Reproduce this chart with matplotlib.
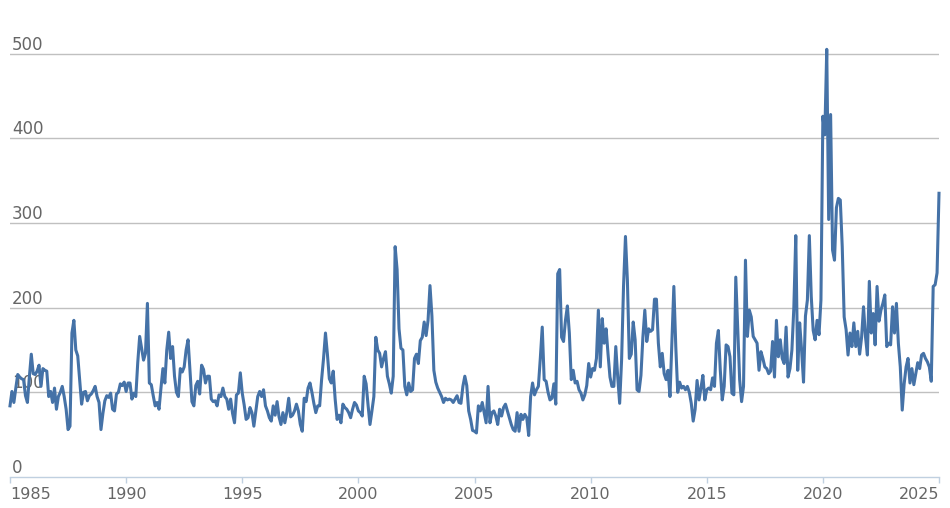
import numpy as np
import matplotlib
matplotlib.use('Agg')
import matplotlib.pyplot as plt
import matplotlib.transforms as mtransforms

# Monthly index values, first point is January 1985
start_year = 1985

epu_1985_1989 = [84, 101, 88, 105, 121, 118, 116, 115, 96, 88, 118, 145,
                 122, 121, 125, 132, 107, 128, 126, 125, 95, 101, 88, 105,
                 80, 95, 100, 107, 95, 80, 56, 60, 170, 185, 150, 143,
                 115, 86, 100, 101, 90, 96, 98, 102, 107, 95, 88, 56,
                 75, 90, 96, 94, 99, 80, 78, 98, 100, 110, 108, 112]

epu_1990_1994 = [101, 111, 111, 92, 99, 95, 135, 166, 152, 138, 146, 205,
                 111, 109, 96, 84, 88, 80, 105, 128, 111, 150, 171, 140,
                 154, 119, 100, 95, 128, 124, 130, 150, 162, 125, 89, 84,
                 108, 113, 98, 132, 127, 111, 119, 119, 92, 89, 90, 84,
                 97, 95, 105, 95, 92, 80, 92, 75, 64, 97, 99, 123]

epu_1995_1999 = [99, 85, 68, 70, 82, 76, 60, 78, 95, 101, 95, 103,
                 84, 78, 70, 66, 84, 73, 89, 71, 62, 76, 64, 76,
                 93, 71, 73, 78, 86, 78, 62, 54, 93, 89, 105, 111,
                 100, 87, 76, 84, 84, 115, 140, 170, 145, 116, 111, 125,
                 92, 68, 73, 64, 86, 82, 80, 76, 70, 80, 88, 85]

epu_2000_2004 = [78, 76, 72, 119, 110, 85, 62, 78, 95, 165, 150, 146,
                 130, 140, 148, 119, 110, 99, 119, 272, 245, 175, 152, 150,
                 107, 97, 111, 101, 103, 140, 145, 134, 161, 165, 183, 167,
                 185, 226, 190, 126, 112, 105, 100, 95, 88, 93, 91, 92,
                 91, 88, 92, 96, 88, 87, 107, 119, 108, 78, 68, 55]

epu_2005_2009 = [54, 52, 84, 78, 88, 76, 64, 107, 64, 76, 78, 72,
                 62, 80, 72, 82, 86, 78, 70, 62, 56, 54, 76, 54,
                 74, 68, 74, 70, 49, 95, 111, 97, 103, 107, 140, 177,
                 115, 113, 100, 91, 93, 110, 86, 240, 245, 165, 160, 185,
                 202, 170, 115, 126, 111, 113, 103, 99, 91, 97, 108, 134]

epu_2010_2014 = [118, 128, 126, 140, 197, 130, 187, 158, 175, 145, 118, 107,
                 107, 154, 118, 87, 138, 225, 284, 232, 140, 145, 183, 162,
                 103, 101, 120, 165, 197, 160, 175, 172, 174, 210, 210, 158,
                 130, 146, 122, 115, 126, 95, 160, 225, 154, 100, 112, 105,
                 107, 103, 107, 100, 87, 66, 80, 114, 91, 105, 120, 91]

epu_2015_2019 = [103, 105, 103, 117, 107, 158, 173, 126, 91, 107, 156, 154,
                 142, 99, 97, 236, 177, 115, 89, 107, 256, 166, 197, 189,
                 166, 162, 158, 126, 148, 140, 130, 128, 122, 125, 160, 118,
                 185, 142, 162, 140, 134, 177, 118, 128, 150, 200, 285, 126,
                 182, 150, 112, 190, 209, 285, 213, 173, 162, 185, 168, 209]

epu_2020_2025 = [426, 404, 505, 304, 428, 268, 256, 318, 329, 327, 272, 189,
                 174, 144, 170, 154, 182, 154, 172, 145, 165, 201, 166, 144,
                 231, 170, 193, 156, 225, 184, 197, 205, 215, 154, 158, 156,
                 201, 170, 205, 158, 130, 79, 110, 130, 140, 111, 128, 109,
                 122, 135, 128, 144, 146, 140, 136, 130, 113, 225, 227, 241,
                 335]

year_ticks = [1985, 1990, 1995, 2000, 2005, 2010, 2015, 2020, 2025]
value_ticks = [0, 100, 200, 300, 400, 500]


def main():
    values = np.array(epu_1985_1989 + epu_1990_1994 + epu_1995_1999 + epu_2000_2004
                      + epu_2005_2009 + epu_2010_2014 + epu_2015_2019 + epu_2020_2025)
    dates = start_year + np.arange(len(values)) / 12.0

    W, H = 950, 508
    fig = plt.figure(figsize=(W / 100, H / 100), dpi=100)
    # plot area in pixels: x 10..939, y(0)=477, y(520)=36.6
    ax = fig.add_axes([10 / W, (H - 477) / H, 929 / W, (477 - 36.6) / H])

    # grid lines (drawn by hand so the label sits just above each one)
    for v in value_ticks[1:]:
        ax.axhline(v, color='#C0C0C0', lw=1, zorder=1)

    label_offset = mtransforms.offset_copy(ax.get_yaxis_transform(), fig=fig, x=2, y=0, units='dots')
    for v in value_ticks:
        ax.text(0, v, str(v), transform=label_offset, ha='left', va='bottom',
                fontsize=12, color='#666666', zorder=2)

    ax.plot(dates, values, color='#4572A7', lw=2.2, zorder=3, clip_on=False,
            solid_joinstyle='round')

    ax.set_xlim(year_ticks[0], year_ticks[-1])
    ax.set_ylim(0, 520)

    # axes cosmetics
    for side in ['top', 'left', 'right']:
        ax.spines[side].set_visible(False)
    ax.spines['bottom'].set_color('#C0D0E0')
    ax.spines['bottom'].set_linewidth(1)
    ax.set_yticks([])
    ax.set_xticks(year_ticks)
    ax.set_xticklabels([str(y) for y in year_ticks], fontsize=11.5, color='#666666')
    ax.tick_params(axis='x', direction='out', length=4, width=1, color='#C0D0E0', pad=3)
    labels = ax.get_xticklabels()
    labels[0].set_ha('left')
    labels[-1].set_ha('right')

    fig.savefig('out.png', dpi=100, facecolor='white')
    plt.close(fig)


if __name__ == '__main__':
    main()
